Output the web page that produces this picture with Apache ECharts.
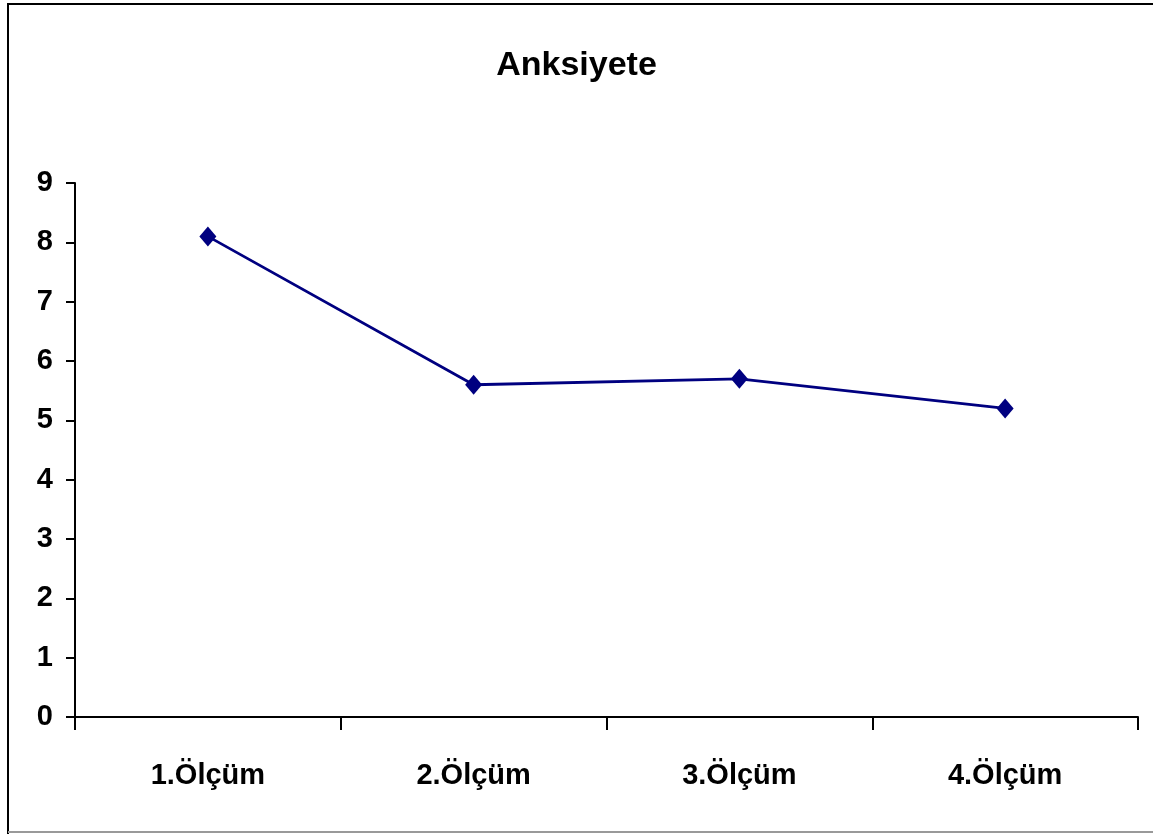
<!DOCTYPE html>
<html>
<head>
<meta charset="utf-8">
<script src="https://cdn.jsdelivr.net/npm/echarts@6/dist/echarts.min.js"></script>
<style>
html,body{margin:0;padding:0;background:#fff;}
#c{width:1153px;height:834px;}
</style>
</head>
<body>
<div id="c"></div>
<script>
const categories = ['1.Ölçüm', '2.Ölçüm', '3.Ölçüm', '4.Ölçüm'];
const values = [8.1, 5.6, 5.7, 5.2];
const yTicks = [0, 1, 2, 3, 4, 5, 6, 7, 8, 9];

const chart = echarts.init(document.getElementById('c'));
chart.setOption({
  backgroundColor: '#fff',
  animation: false,
  title: {
    text: 'Anksiyete',
    left: 'center',
    top: 44,
    textStyle: { fontFamily: 'Liberation Sans', fontWeight: 'bold', fontSize: 34, color: '#000' }
  },
  graphic: [
    { type: 'polyline', shape: { points: [[8, 834], [8, 4], [1153, 4]] }, style: { stroke: '#000', lineWidth: 2, fill: null } },
    { type: 'line', shape: { x1: 8, y1: 832, x2: 1153, y2: 832 }, style: { stroke: '#999', lineWidth: 2 } }
  ],
  grid: { left: 75, right: 15, top: 183, bottom: 117 },
  xAxis: {
    type: 'category',
    data: categories,
    boundaryGap: true,
    axisLine: { lineStyle: { color: '#000', width: 2 } },
    axisTick: { show: true, length: 13, lineStyle: { color: '#000', width: 2 } },
    axisLabel: { margin: 44, fontFamily: 'Liberation Sans', fontWeight: 'bold', fontSize: 29, color: '#000' },
    splitLine: { show: false }
  },
  yAxis: {
    type: 'value',
    min: yTicks[0],
    max: yTicks[yTicks.length - 1],
    interval: 1,
    axisLine: { show: true, lineStyle: { color: '#000', width: 2 } },
    axisTick: { show: true, length: 9, lineStyle: { color: '#000', width: 2 } },
    axisLabel: { margin: 22, fontFamily: 'Liberation Sans', fontWeight: 'bold', fontSize: 29, color: '#000' },
    splitLine: { show: false }
  },
  series: [{
    type: 'line',
    data: values,
    symbol: 'diamond',
    symbolSize: [17, 20],
    lineStyle: { color: '#000080', width: 2.8 },
    itemStyle: { color: '#000080' }
  }]
});
</script>
</body>
</html>
